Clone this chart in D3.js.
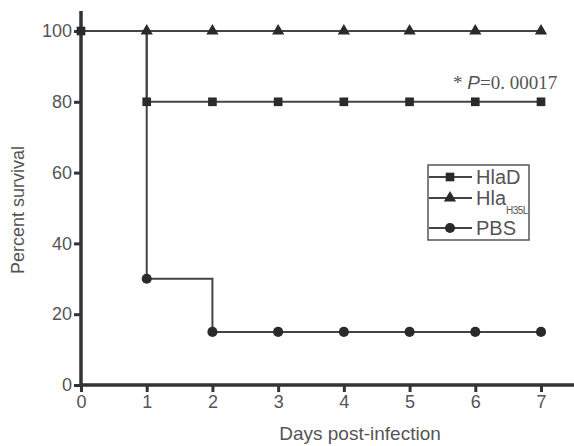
<!DOCTYPE html>
<html lang="en">
<head>
  <meta charset="UTF-8">
  <title>Percent survival</title>
  <style>
    body { margin: 0; padding: 0; background: #fff; }
    svg text { font-family: "Liberation Sans", Arial, sans-serif; fill: #555; }
  </style>
</head>
<body>
  <svg id="chart" width="574" height="446"></svg>
  <script src="https://d3js.org/d3.v7.min.js"></script>
  <script>
    const days = [0, 1, 2, 3, 4, 5, 6, 7];
    const hlaD = [100, 80, 80, 80, 80, 80, 80, 80];
    const hlaH35L = [100, 100, 100, 100, 100, 100, 100, 100];
    const pbs = [100, 30, 15, 15, 15, 15, 15, 15];
    const yTicks = [0, 20, 40, 60, 80, 100];

    const series = [
      { name: "HlaD", values: hlaD, symbol: d3.symbolSquare, size: 75, from: 0 },
      { name: "Hla", sub: "H35L", values: hlaH35L, symbol: d3.symbolTriangle, size: 65, from: 1 },
      { name: "PBS", values: pbs, symbol: d3.symbolCircle, size: 80, from: 1 }
    ];

    const svg = d3.select("#chart");
    const x = d3.scaleLinear().domain([0, 7]).range([81, 541]);
    const y = d3.scaleLinear().domain([0, 100]).range([385, 31]);

    // axes
    const xAxis = svg.append("g").attr("transform", "translate(0,385)")
      .call(d3.axisBottom(x).tickValues(days).tickFormat(d3.format("d")).tickSize(7).tickPadding(3));
    const yAxis = svg.append("g").attr("transform", "translate(81,0)")
      .call(d3.axisLeft(y).tickValues(yTicks).tickFormat(d3.format("d")).tickSize(7).tickPadding(2));
    [xAxis, yAxis].forEach(g => {
      g.select(".domain").remove();
      g.selectAll(".tick line").attr("stroke", "#333").attr("stroke-width", 3);
      g.selectAll(".tick text").style("font-size", "18px").attr("fill", "#555");
    });
    svg.append("line").attr("x1", 81).attr("x2", 574).attr("y1", 385).attr("y2", 385)
      .attr("stroke", "#333").attr("stroke-width", 3.5);
    svg.append("line").attr("x1", 81).attr("x2", 81).attr("y1", 11).attr("y2", 386)
      .attr("stroke", "#333").attr("stroke-width", 3.5);

    // step lines
    const line = d3.line()
      .x((d, i) => x(days[i]))
      .y(d => y(d))
      .curve(d3.curveStepAfter);

    series.forEach(s => {
      svg.append("path").attr("d", line(s.values))
        .attr("fill", "none").attr("stroke", "#444").attr("stroke-width", 2);
    });
    series.forEach(s => {
      svg.selectAll(null).data(s.values.slice(s.from)).enter()
        .append("path")
        .attr("d", d3.symbol().type(s.symbol).size(s.size))
        .attr("transform", (d, i) => `translate(${x(days[i + s.from])},${y(d)})`)
        .attr("fill", "#2a2a2a");
    });

    // p-value annotation
    const pt = svg.append("text").attr("x", 453).attr("y", 89)
      .style("font-family", "'Liberation Serif', 'DejaVu Serif', serif").style("font-size", "19px");
    pt.append("tspan").text("* ");
    pt.append("tspan").style("font-style", "italic").style("font-family", "'Liberation Sans', Arial, sans-serif").text("P");
    pt.append("tspan").text("=0. 00017");

    // legend
    const lg = svg.append("g");
    lg.append("rect").attr("x", 428).attr("y", 165).attr("width", 101).attr("height", 75)
      .attr("fill", "#fff").attr("stroke", "#555").attr("stroke-width", 1.5);
    const ly = [177, 198, 228];
    series.forEach((s, i) => {
      lg.append("line").attr("x1", 429).attr("x2", 472).attr("y1", ly[i]).attr("y2", ly[i])
        .attr("stroke", "#444").attr("stroke-width", 2);
      lg.append("path").attr("d", d3.symbol().type(s.symbol).size(s.size))
        .attr("transform", `translate(450,${ly[i]})`).attr("fill", "#2a2a2a");
      const t = lg.append("text").attr("x", 476).attr("y", ly[i] + 7).style("font-size", "20px").text(s.name);
      if (s.sub) t.append("tspan").attr("dy", 9).style("font-size", "10px").style("letter-spacing", "-0.5px").text(s.sub);
    });

    // axis titles
    svg.append("text").attr("x", 360).attr("y", 440).attr("text-anchor", "middle")
      .style("font-size", "19px").text("Days post-infection");
    svg.append("text").attr("transform", "translate(24,210) rotate(-90)").attr("text-anchor", "middle")
      .style("font-size", "18px").text("Percent survival");
  </script>
</body>
</html>
